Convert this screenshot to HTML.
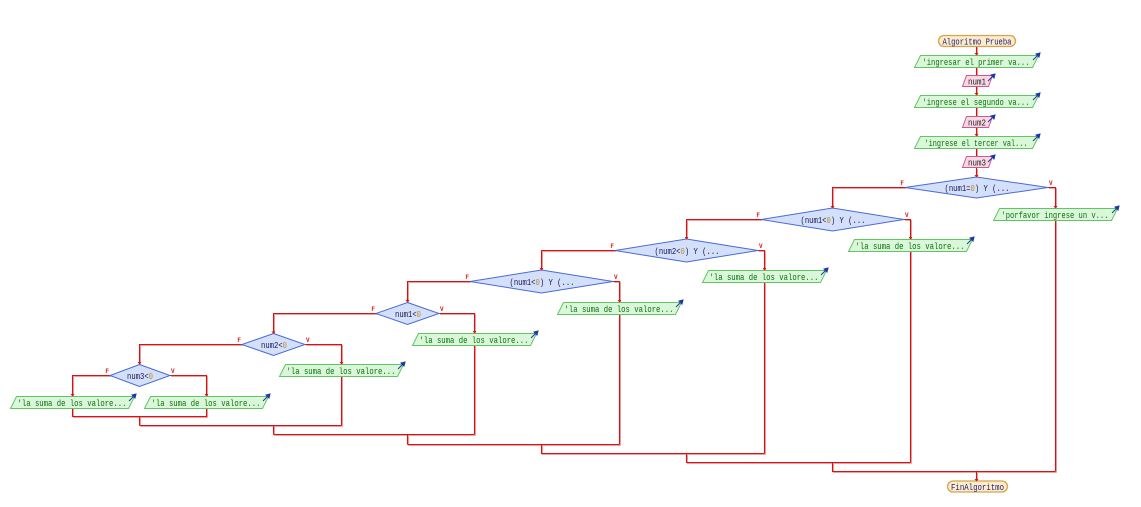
<!DOCTYPE html>
<html><head><meta charset="utf-8"><style>
html,body{margin:0;padding:0;background:#fff;}
svg{display:block;}
text{font-family:"Liberation Mono","DejaVu Sans Mono",monospace;}
</style></head><body>
<svg width="1141" height="507" viewBox="0 0 1141 507" xmlns="http://www.w3.org/2000/svg">
<rect width="1141" height="507" fill="#fff"/>
<defs>
<g id="wires">
<path d="M976.5 46V55M976.5 67V75M976.5 86V95M976.5 107V116M976.5 127V136M976.5 148V156M976.5 168V177"/>
<path d="M905 187.5H832.5V208M1048 187.5H1055.5V208M1055.5 220V471.5"/>
<path d="M761 219.5H686.5V239M904 219.5H910.5V239M910.5 251V462.5"/>
<path d="M615 250.5H541.5V270M758 250.5H764.5V270M764.5 282V453.5"/>
<path d="M470 281.5H407.5V302M613 281.5H619.5V302M619.5 314V444.5"/>
<path d="M376 313.5H273.5V334M439 313.5H474.5V333M474.5 345V434.5"/>
<path d="M242 344.5H139.5V364M305 344.5H341.5V364M341.5 376V425.5"/>
<path d="M110 375.5H72.5V396M170 375.5H206.5V396M72.5 408V416.5H206.5V408M139.5 416.5V425.5"/>
<path d="M139.5 425.5H341.5M273.5 425.5V434.5M273.5 434.5H474.5M407.5 434.5V444.5M407.5 444.5H619.5M541.5 444.5V453.5H764.5M686.5 453.5V462.5H910.5M832.5 462.5V471.5H1055.5M976.5 471.5V481"/>
</g>
</defs>
<use href="#wires" transform="translate(1,1)" fill="none" stroke="#f0a0a0" stroke-width="1"/>
<use href="#wires" fill="none" stroke="#d01515" stroke-width="1.1"/>

<!-- terminals -->
<rect x="938.5" y="35.5" width="77" height="11" rx="5.5" fill="#fcecc8" stroke="#d4a452" stroke-width="1.3"/>
<text x="977" y="44.5" font-size="9" fill="#1a1a80" text-anchor="middle" textLength="69" lengthAdjust="spacingAndGlyphs">Algoritmo Prueba</text>
<rect x="947.5" y="481" width="60" height="11" rx="5.5" fill="#fcecc8" stroke="#d4a452" stroke-width="1.3"/>
<text x="977.5" y="490" font-size="9" fill="#1a1a80" text-anchor="middle" textLength="53" lengthAdjust="spacingAndGlyphs">FinAlgoritmo</text>

<!-- output boxes -->
<g fill="#daf7da" stroke="#62c462" stroke-width="1">
<polygon points="920.5,55.5 1038.5,55.5 1032.5,67.5 914.5,67.5"/>
<polygon points="920.5,95.5 1038.5,95.5 1032.5,107.5 914.5,107.5"/>
<polygon points="920.5,136.5 1038.5,136.5 1032.5,148.5 914.5,148.5"/>
<polygon points="999.5,208.5 1117.5,208.5 1111.5,220.5 993.5,220.5"/>
<polygon points="854.5,239.5 972.5,239.5 966.5,251.5 848.5,251.5"/>
<polygon points="708.5,270.5 826.5,270.5 820.5,282.5 702.5,282.5"/>
<polygon points="563.5,302.5 681.5,302.5 675.5,314.5 557.5,314.5"/>
<polygon points="418.5,333.5 536.5,333.5 530.5,345.5 412.5,345.5"/>
<polygon points="285.5,364.5 403.5,364.5 397.5,376.5 279.5,376.5"/>
<polygon points="16.5,396.5 134.5,396.5 128.5,408.5 10.5,408.5"/>
<polygon points="150.5,396.5 268.5,396.5 262.5,408.5 144.5,408.5"/>
</g>
<g font-size="9" fill="#0a700a" text-anchor="middle">
<text x="976" y="65" textLength="107" lengthAdjust="spacingAndGlyphs">'ingresar el primer va...</text>
<text x="976" y="105" textLength="107" lengthAdjust="spacingAndGlyphs">'ingrese el segundo va...</text>
<text x="976" y="146" textLength="103" lengthAdjust="spacingAndGlyphs">'ingrese el tercer val...</text>
<text x="1055" y="218" textLength="107" lengthAdjust="spacingAndGlyphs">'porfavor ingrese un v...</text>
<text x="910" y="249" textLength="109" lengthAdjust="spacingAndGlyphs">'la suma de los valore...</text>
<text x="764" y="280" textLength="109" lengthAdjust="spacingAndGlyphs">'la suma de los valore...</text>
<text x="619" y="312" textLength="109" lengthAdjust="spacingAndGlyphs">'la suma de los valore...</text>
<text x="474" y="343" textLength="109" lengthAdjust="spacingAndGlyphs">'la suma de los valore...</text>
<text x="341" y="374" textLength="109" lengthAdjust="spacingAndGlyphs">'la suma de los valore...</text>
<text x="72" y="406" textLength="109" lengthAdjust="spacingAndGlyphs">'la suma de los valore...</text>
<text x="206" y="406" textLength="109" lengthAdjust="spacingAndGlyphs">'la suma de los valore...</text>
</g>

<!-- input boxes -->
<g fill="#f9d8e6" stroke="#cc5a8c" stroke-width="1">
<polygon points="966.5,75.5 992.5,75.5 988.5,86.5 962.5,86.5"/>
<polygon points="966.5,116.5 992.5,116.5 988.5,127.5 962.5,127.5"/>
<polygon points="966.5,156.5 992.5,156.5 988.5,167.5 962.5,167.5"/>
</g>
<g font-size="9" fill="#202020" text-anchor="middle">
<text x="977" y="84.5" textLength="18" lengthAdjust="spacingAndGlyphs">num1</text>
<text x="977" y="125.5" textLength="18" lengthAdjust="spacingAndGlyphs">num2</text>
<text x="977" y="165.5" textLength="18" lengthAdjust="spacingAndGlyphs">num3</text>
</g>

<!-- arrow icons -->
<g stroke="#1a3aa8" stroke-width="1" fill="#1a3aa8">
<path d="M1033 60L1039 54"/><polygon points="1040,53 1036,54 1039,57"/>
<path d="M1033 100L1039 94"/><polygon points="1040,93 1036,94 1039,97"/>
<path d="M1033 141L1039 135"/><polygon points="1040,134 1036,135 1039,138"/>
<path d="M1112 213L1118 207"/><polygon points="1119,206 1115,207 1118,210"/>
<path d="M967 244L973 238"/><polygon points="974,237 970,238 973,241"/>
<path d="M821 275L827 269"/><polygon points="828,268 824,269 827,272"/>
<path d="M676 307L682 301"/><polygon points="683,300 679,301 682,304"/>
<path d="M531 338L537 332"/><polygon points="538,331 534,332 537,335"/>
<path d="M398 369L404 363"/><polygon points="405,362 401,363 404,366"/>
<path d="M129 401L135 395"/><polygon points="136,394 132,395 135,398"/>
<path d="M263 401L269 395"/><polygon points="270,394 266,395 269,398"/>
<path d="M988 81L994 75"/><polygon points="995,74 991,75 994,78"/>
<path d="M988 122L994 116"/><polygon points="995,115 991,116 994,119"/>
<path d="M988 162L994 156"/><polygon points="995,155 991,156 994,159"/>
</g>

<!-- diamonds -->
<g fill="#d4e0fa" stroke="#4a6ad6" stroke-width="1">
<polygon points="976.5,177 1048,187.5 976.5,198 905,187.5"/>
<polygon points="832.5,208 904,219.5 832.5,231 761,219.5"/>
<polygon points="686.5,239 758,250.5 686.5,262 615,250.5"/>
<polygon points="541.5,270 613,281.5 541.5,293 470,281.5"/>
<polygon points="407.5,302.5 439,313.5 407.5,324.5 376,313.5"/>
<polygon points="273.5,333.5 305,344.5 273.5,355.5 242,344.5"/>
<polygon points="139.5,364.5 170,375.5 139.5,386.5 110,375.5"/>
</g>
<g font-size="9" fill="#141450" text-anchor="middle">
<text x="977" y="191" textLength="65" lengthAdjust="spacingAndGlyphs">(num1=<tspan fill="#c08a30">0</tspan>) Y (...</text>
<text x="833" y="223" textLength="65" lengthAdjust="spacingAndGlyphs">(num1&lt;<tspan fill="#c08a30">0</tspan>) Y (...</text>
<text x="687" y="254" textLength="65" lengthAdjust="spacingAndGlyphs">(num2&lt;<tspan fill="#c08a30">0</tspan>) Y (...</text>
<text x="542" y="285" textLength="65" lengthAdjust="spacingAndGlyphs">(num1&lt;<tspan fill="#c08a30">0</tspan>) Y (...</text>
<text x="408" y="317" textLength="26" lengthAdjust="spacingAndGlyphs">num1&lt;<tspan fill="#c08a30">0</tspan></text>
<text x="274" y="348" textLength="26" lengthAdjust="spacingAndGlyphs">num2&lt;<tspan fill="#c08a30">0</tspan></text>
<text x="140" y="379" textLength="26" lengthAdjust="spacingAndGlyphs">num3&lt;<tspan fill="#c08a30">0</tspan></text>
</g>

<!-- F / V labels -->
<g font-size="6" font-weight="bold" fill="#d41818" font-family="Liberation Sans, sans-serif">
<text x="904" y="185" text-anchor="end">F</text><text x="1049" y="185">V</text>
<text x="760" y="217" text-anchor="end">F</text><text x="905" y="217">V</text>
<text x="614" y="248" text-anchor="end">F</text><text x="759" y="248">V</text>
<text x="469" y="279" text-anchor="end">F</text><text x="614" y="279">V</text>
<text x="375" y="311" text-anchor="end">F</text><text x="440" y="311">V</text>
<text x="241" y="342" text-anchor="end">F</text><text x="306" y="342">V</text>
<text x="109" y="373" text-anchor="end">F</text><text x="171" y="373">V</text>
</g>

<!-- small arrow tips -->
<g fill="#d41818">
<polygon points="974.5,53 978.5,53 976.5,55.5"/>
<polygon points="974.5,93 978.5,93 976.5,95.5"/>
<polygon points="974.5,134 978.5,134 976.5,136.5"/>
<polygon points="974.5,175 978.5,175 976.5,177.5"/>
<polygon points="830.5,206 834.5,206 832.5,208.5"/>
<polygon points="684.5,237 688.5,237 686.5,239.5"/>
<polygon points="539.5,268 543.5,268 541.5,270.5"/>
<polygon points="405.5,300 409.5,300 407.5,302.5"/>
<polygon points="271.5,331.5 275.5,331.5 273.5,334"/>
<polygon points="137.5,362 141.5,362 139.5,364.5"/>
<polygon points="1053.5,206 1057.5,206 1055.5,208.5"/>
<polygon points="908.5,237 912.5,237 910.5,239.5"/>
<polygon points="762.5,268 766.5,268 764.5,270.5"/>
<polygon points="617.5,300 621.5,300 619.5,302.5"/>
<polygon points="472.5,331 476.5,331 474.5,333.5"/>
<polygon points="339.5,362 343.5,362 341.5,364.5"/>
<polygon points="70.5,394 74.5,394 72.5,396.5"/>
<polygon points="204.5,394 208.5,394 206.5,396.5"/>
<polygon points="974.5,479 978.5,479 976.5,481.5"/>
</g>
</svg>
</body></html>
